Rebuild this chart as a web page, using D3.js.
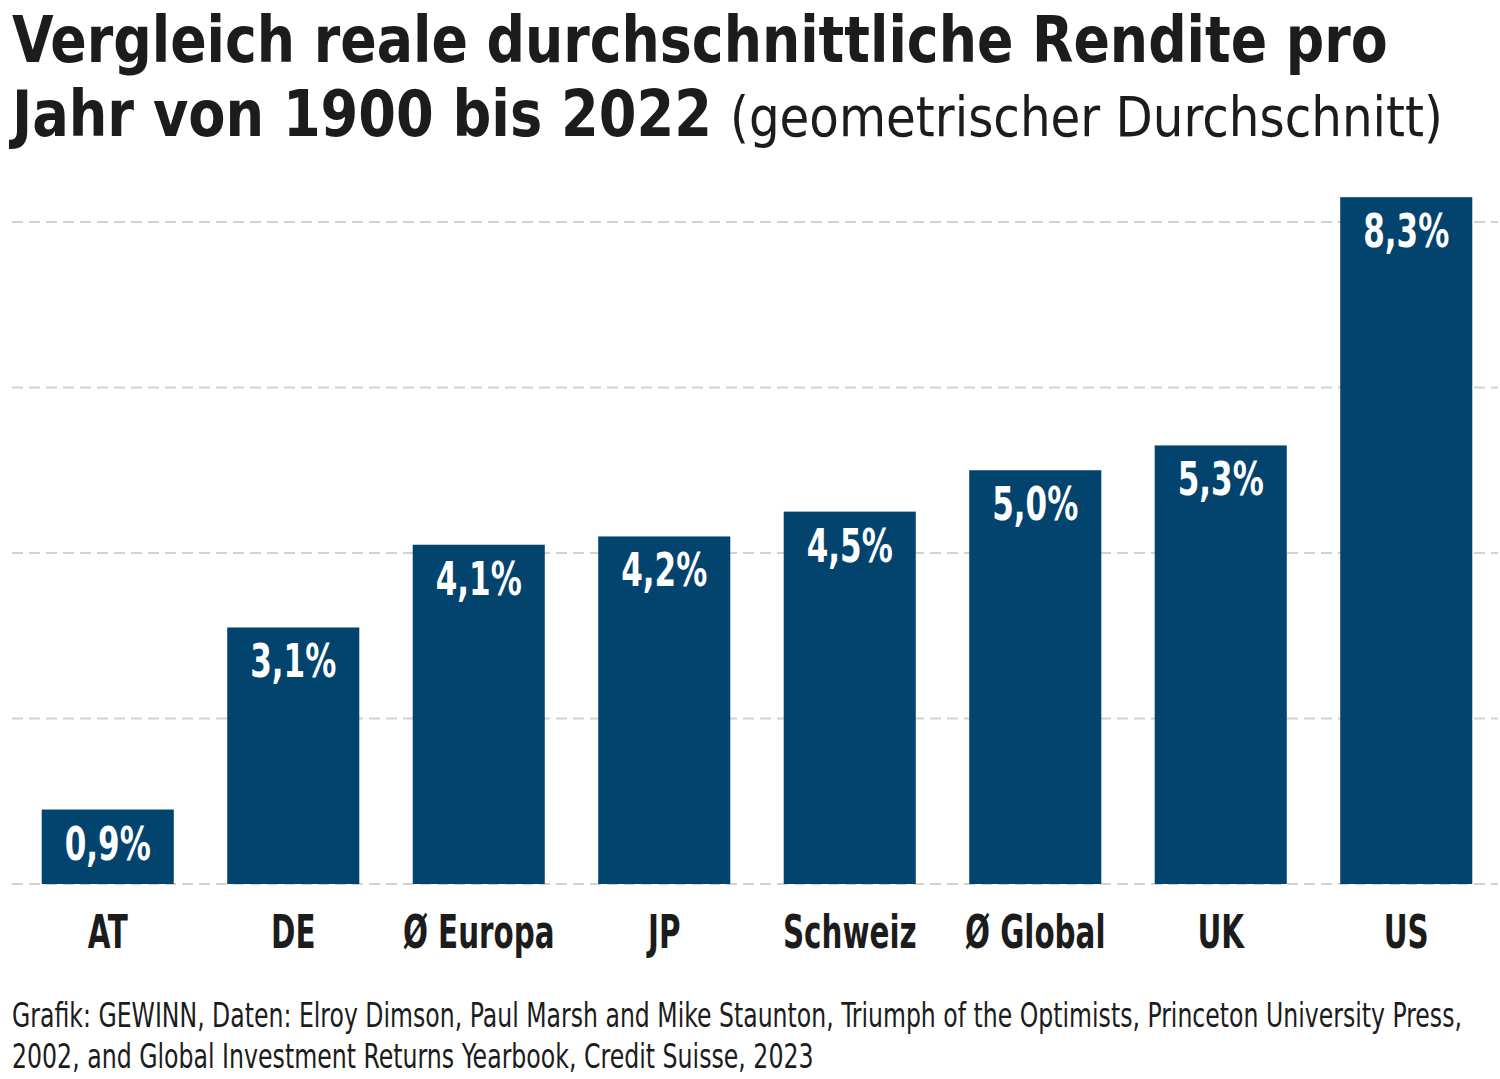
<!DOCTYPE html>
<html>
<head>
<meta charset="utf-8">
<script src="https://cdn.jsdelivr.net/npm/d3@7"></script>
<style>
  body { margin: 0; background: #fff; }
  svg { display: block; }
  text { font-family: "Liberation Sans Narrow", "DejaVu Sans Condensed", "Roboto", sans-serif; }
</style>
</head>
<body>
<div id="chart"></div>
<script>
// Data
const categories = ["AT", "DE", "Ø Europa", "JP", "Schweiz", "Ø Global", "UK", "US"];
const values = [0.9, 3.1, 4.1, 4.2, 4.5, 5.0, 5.3, 8.3];
const gridTicks = [0, 2, 4, 6, 8];

const titleLine1 = "Vergleich reale durchschnittliche Rendite pro";
const titleLine2Bold = "Jahr von 1900 bis 2022";
const titleLine2Light = "(geometrischer Durchschnitt)";
const footerLines = [
  "Grafik: GEWINN, Daten: Elroy Dimson, Paul Marsh and Mike Staunton, Triumph of the Optimists, Princeton University Press,",
  "2002, and Global Investment Returns Yearbook, Credit Suisse, 2023"
];

const width = 1500;
const height = 1079;
const barColor = "#03446f";
const textColor = "#1c1c1c";

const svg = d3.select("#chart")
  .append("svg")
  .attr("width", width)
  .attr("height", height);

// Scales
const x = d3.scaleBand()
  .domain(categories)
  .range([15, 1499])
  .paddingInner(0.288)
  .paddingOuter(0.144);

const y = d3.scaleLinear()
  .domain([0, 8])
  .range([884, 222]);

// Compress a text horizontally around its anchor point (the original font is
// narrower than anything installed). w: target width, or k: fixed factor.
function squeeze(sel, w, k) {
  sel.each(function() {
    const t = d3.select(this);
    const tx = +t.attr("x"), ty = +t.attr("y");
    const f = w ? w / this.getComputedTextLength() : k;
    t.attr("x", 0).attr("y", 0)
      .attr("transform", `translate(${tx},${ty}) scale(${f},1)`);
  });
}

// Title
svg.append("text")
  .attr("x", 12)
  .attr("y", 62)
  .attr("font-size", 64)
  .attr("font-weight", "bold")
  .attr("fill", textColor)
  .text(titleLine1)
  .call(squeeze, 1376);

svg.append("text")
  .attr("x", 12)
  .attr("y", 136)
  .attr("font-size", 64)
  .attr("font-weight", "bold")
  .attr("fill", textColor)
  .text(titleLine2Bold)
  .call(squeeze, 700);

svg.append("text")
  .attr("x", 730)
  .attr("y", 136)
  .attr("font-size", 56)
  .attr("fill", textColor)
  .text(titleLine2Light)
  .call(squeeze, 713);

// Dashed gridlines
svg.append("g")
  .attr("class", "grid")
  .selectAll("line")
  .data(gridTicks)
  .join("line")
  .attr("x1", 12)
  .attr("x2", 1498)
  .attr("y1", d => y(d))
  .attr("y2", d => y(d))
  .attr("stroke", "#d2d2d2")
  .attr("stroke-width", 2)
  .attr("stroke-dasharray", "11,6");

// Bars
svg.append("g")
  .attr("class", "bars")
  .selectAll("rect")
  .data(categories)
  .join("rect")
  .attr("x", d => x(d))
  .attr("y", (d, i) => y(values[i]))
  .attr("width", x.bandwidth())
  .attr("height", (d, i) => y(0) - y(values[i]))
  .attr("fill", barColor);

// Value labels inside bars
svg.append("g")
  .attr("class", "values")
  .selectAll("text")
  .data(categories)
  .join("text")
  .attr("x", d => x(d) + x.bandwidth() / 2)
  .attr("y", (d, i) => y(values[i]) + 50)
  .attr("text-anchor", "middle")
  .attr("font-size", 46)
  .attr("font-weight", "bold")
  .attr("fill", "#fff")
  .text((d, i) => values[i].toFixed(1).replace(".", ",") + "%")
  .call(squeeze, null, 0.75);

// Category labels
svg.append("g")
  .attr("class", "labels")
  .selectAll("text")
  .data(categories)
  .join("text")
  .attr("x", d => x(d) + x.bandwidth() / 2)
  .attr("y", 948)
  .attr("text-anchor", "middle")
  .attr("font-size", 46)
  .attr("font-weight", "bold")
  .attr("fill", textColor)
  .text(d => d)
  .call(squeeze, null, 0.71);

// Footer / source
svg.append("g")
  .attr("class", "footer")
  .selectAll("text")
  .data(footerLines)
  .join("text")
  .attr("x", 12)
  .attr("y", (d, i) => 1027 + i * 41)
  .attr("font-size", 34)
  .attr("fill", textColor)
  .text(d => d)
  .each(function(d, i) {
    d3.select(this).call(squeeze, i === 0 ? 1450 : 802);
  });
</script>
</body>
</html>
